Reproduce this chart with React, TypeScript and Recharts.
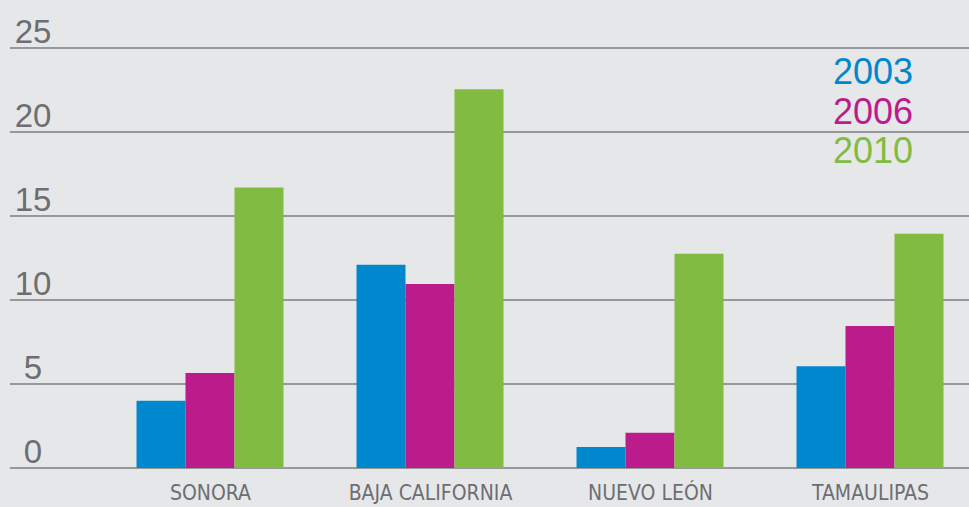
import { BarChart, Bar, XAxis, YAxis, CartesianGrid } from "recharts";

const states = ["SONORA", "BAJA CALIFORNIA", "NUEVO LEÓN", "TAMAULIPAS"];
const y2003 = [4.0, 12.1, 1.25, 6.05];
const y2006 = [5.65, 10.95, 2.1, 8.45];
const y2010 = [16.7, 22.55, 12.75, 13.95];
const yTicks = [0, 5, 10, 15, 20, 25];

const series = [
  { key: "y2003", label: "2003", color: "#0088ce" },
  { key: "y2006", label: "2006", color: "#bc1c8b" },
  { key: "y2010", label: "2010", color: "#82bb42" },
];

const data = states.map((name, i) => ({
  name,
  y2003: y2003[i],
  y2006: y2006[i],
  y2010: y2010[i],
}));

const grey = "#6d6e71";

function YTick(props: any) {
  return (
    <text
      x={33}
      y={props.y - 5}
      textAnchor="middle"
      fill={grey}
      fontSize={33}
      fontFamily="'Liberation Sans', Arial, sans-serif"
    >
      {props.payload.value}
    </text>
  );
}

function XTick(props: any) {
  return (
    <text
      x={props.x}
      y={500}
      textAnchor="middle"
      fill={grey}
      fontSize={21}
      fontFamily="'Liberation Sans Narrow', 'DejaVu Sans Condensed', sans-serif"
    >
      {props.payload.value}
    </text>
  );
}

export default function App() {
  return (
    <div
      style={{
        position: "absolute",
        left: 0,
        top: 0,
        width: 969,
        height: 507,
        overflow: "hidden",
        background: "#e6e7e9",
      }}
    >
      <BarChart
        width={1000}
        height={507}
        data={data}
        margin={{ top: 48, right: 0, left: 0, bottom: 0 }}
        barCategoryGap={36}
        barGap={0}
      >
        <CartesianGrid vertical={false} stroke="#96989b" strokeWidth={2} />
        <XAxis
          dataKey="name"
          height={39}
          axisLine={false}
          tickLine={false}
          padding={{ left: 90.5, right: 19.5 }}
          tick={<XTick />}
          interval={0}
        />
        <YAxis
          width={10}
          domain={[0, 25]}
          ticks={yTicks}
          axisLine={false}
          tickLine={false}
          tick={<YTick />}
        />
        {series.map((s) => (
          <Bar key={s.key} dataKey={s.key} fill={s.color} isAnimationActive={false} />
        ))}
      </BarChart>
      <div
        style={{
          position: "absolute",
          left: 833,
          top: 52,
          fontFamily: "'Liberation Sans', Arial, sans-serif",
          fontSize: 36,
          lineHeight: "39.5px",
        }}
      >
        {series.map((s) => (
          <div key={s.key} style={{ color: s.color }}>
            {s.label}
          </div>
        ))}
      </div>
    </div>
  );
}
